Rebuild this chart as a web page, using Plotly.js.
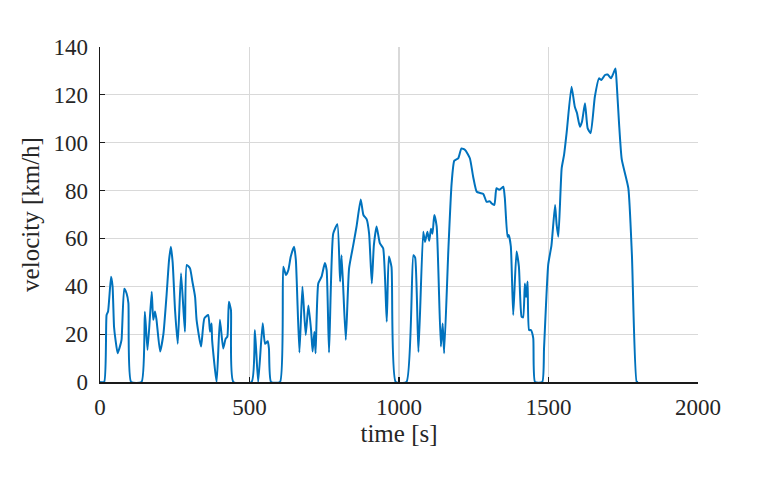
<!DOCTYPE html>
<html>
<head>
<meta charset="utf-8">
<script src="https://cdn.plot.ly/plotly-3.0.1.min.js"></script>
<style>html,body{margin:0;padding:0;background:#fff;}#chart{width:758px;height:483px;}</style>
</head>
<body>
<div id="chart"></div>
<script>
var timeS = [0,14,22,27,37,42,47,52,59,67,72,81,89,95,104,139,150,159,173,178,184,189,201,212,223,231,237,243,251,260,271,284,290,301,309,318,323,338,349,362,368,373,375,390,401,412,420,426,431,438,446,507,518,529,544,552,561,565,572,602,613,622,630,638,649,655,667,677,688,697,706,711,717,721,730,741,752,758,766,780,794,803,808,822,833,847,858,872,881,892,900,909,916,925,936,947,959,966,975,989,1025,1048,1054,1065,1081,1087,1095,1101,1107,1112,1118,1126,1140,1146,1151,1165,1176,1185,1198,1209,1221,1237,1248,1260,1271,1282,1293,1304,1310,1319,1326,1335,1343,1349,1354,1363,1367,1374,1382,1393,1401,1410,1415,1421,1425,1430,1435,1441,1449,1455,1479,1485,1499,1510,1522,1527,1533,1544,1552,1561,1577,1588,1595,1605,1612,1622,1631,1641,1655,1669,1677,1689,1698,1709,1717,1724,1728,1736,1745,1767,1779,1795,1800];
var velocity = [0,0,28,29.5,44,40,23,17.5,12,15,17.6,39,37,33,0,0,29.4,13.4,37.7,26,29.5,26,12.7,20,37,51,56.5,50,30,16,45.4,21,48.9,47.5,42,35.6,26,14.8,26.6,28,21,24.5,17.5,0,26,14,18,19,33.5,30,0,0,21.7,0,24.6,16,17,14,0,0,48.2,44.7,46.8,52.4,56.5,51,12.3,39.8,19.6,32,21.7,12.7,21,12,41.2,44,49.7,46.8,12.3,62,65.9,42,53,17.6,47.5,57.2,65,76.3,69.8,68,62,41.2,57.2,65,58,55.9,25.2,52.4,48,0,0,53,52,12.5,62.8,58.5,62.8,59,64,62,69.8,65,14.8,24.5,12,55,83,92.5,93.5,97.6,97,93.5,85.8,79.5,79,78.6,75.3,75.5,74.6,74,81,80.3,81,81.6,76.8,60.7,61.4,56.7,28,54.5,48.2,27.3,27,41.2,35.5,42,21.7,21.7,18.3,0,0,14,49,57.2,74,66,60.7,89.3,94.9,104.6,123.4,115,112.5,106.7,108.8,116.5,106,104,119.2,126.9,126.2,128.3,128.5,126.9,129,131,125,108,93,81,53,0,0];
var xTicks = [0,500,1000,1500,2000];
var yTicks = [0,20,40,60,80,100,120,140];

var fontFam = 'Times New Roman, Liberation Serif, Times, serif';
var axisCommon = {
  showgrid: true, gridcolor: '#d9d9d9', gridwidth: 1.2,
  zeroline: false, showline: true, linecolor: '#1a1a1a', linewidth: 1.5,
  ticks: 'inside', ticklen: 5, tickcolor: '#1a1a1a', tickwidth: 1.2,
  tickfont: {family: fontFam, size: 23, color: '#262626'},
  layer: 'below traces', mirror: false
};
var layout = {
  width: 758, height: 483,
  margin: {l: 100, r: 60, t: 47, b: 101},
  paper_bgcolor: '#ffffff', plot_bgcolor: '#ffffff',
  font: {family: fontFam},
  showlegend: false,
  xaxis: Object.assign({}, axisCommon, {
    range: [0, 2000], tickmode: 'array', tickvals: xTicks, ticktext: xTicks.map(String),
    ticklabelstandoff: 4,
    title: {text: 'time [s]', font: {family: fontFam, size: 25, color: '#262626'}, standoff: 5}
  }),
  yaxis: Object.assign({}, axisCommon, {
    range: [0, 140], tickmode: 'array', tickvals: yTicks, ticktext: yTicks.map(String),
    ticklabelstandoff: 6,
    title: {text: 'velocity [km/h]', font: {family: fontFam, size: 25, color: '#262626'}, standoff: 6}
  })
};
var trace = {
  x: timeS, y: velocity, type: 'scatter', mode: 'lines',
  line: {color: '#0072BD', width: 2, shape: 'spline', smoothing: 0.5}, hoverinfo: 'skip'
};
Plotly.newPlot('chart', [trace], layout, {displayModeBar: false, staticPlot: true});
</script>
</body>
</html>
